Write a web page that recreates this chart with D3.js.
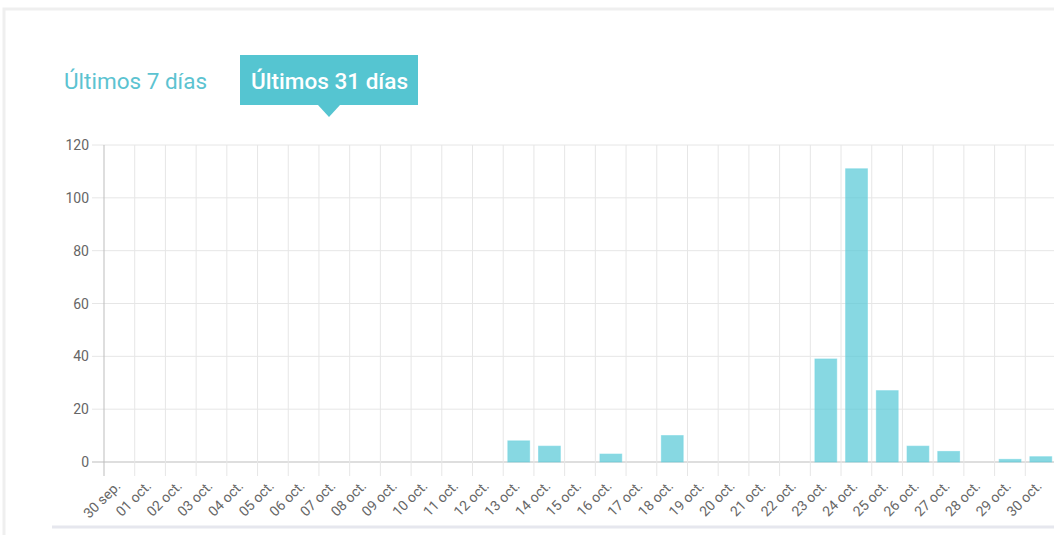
<!DOCTYPE html>
<html>
<head>
<meta charset="utf-8">
<script src="https://cdn.jsdelivr.net/npm/d3@7"></script>
<style>
  body { margin: 0; background: #fff; font-family: Roboto, sans-serif; }
  svg { display: block; }
</style>
</head>
<body>
<svg id="chart"></svg>
<script>
// categories (days) and visits per day
const days = ["30 sep.", "01 oct.", "02 oct.", "03 oct.", "04 oct.", "05 oct.", "06 oct.",
  "07 oct.", "08 oct.", "09 oct.", "10 oct.", "11 oct.", "12 oct.", "13 oct.", "14 oct.",
  "15 oct.", "16 oct.", "17 oct.", "18 oct.", "19 oct.", "20 oct.", "21 oct.", "22 oct.",
  "23 oct.", "24 oct.", "25 oct.", "26 oct.", "27 oct.", "28 oct.", "29 oct.", "30 oct."];
const visits = [0, 0, 0, 0, 0, 0, 0, 0, 0, 0, 0, 0, 0, 8, 6, 0, 3, 0, 10, 0, 0, 0, 0,
  39, 111, 27, 6, 4, 0, 1, 2];
const yTicks = [0, 20, 40, 60, 80, 100, 120];
const tabs = ["Últimos 7 días", "Últimos 31 días"];

const W = 1054, H = 535;
const svg = d3.select('#chart').attr('width', W).attr('height', H);

// panel frame
svg.append('rect')
  .attr('x', 4).attr('y', 9).attr('width', W).attr('height', 560)
  .attr('fill', '#fff').attr('stroke', '#efefef').attr('stroke-width', 3);
svg.append('line')
  .attr('x1', 52).attr('x2', W).attr('y1', 527).attr('y2', 527)
  .attr('stroke', '#e6e7ee').attr('stroke-width', 3);

// tabs
svg.append('text')
  .attr('x', 64).attr('y', 89)
  .attr('fill', '#5cc3d1').attr('font-size', 22)
  .attr('textLength', 143).attr('lengthAdjust', 'spacingAndGlyphs')
  .text(tabs[0]);

const tab = svg.append('g');
tab.append('rect')
  .attr('x', 240).attr('y', 55).attr('width', 178).attr('height', 50)
  .attr('fill', '#55c5d1');
tab.append('path')
  .attr('d', 'M318,105 L329,117 L340,105 Z')
  .attr('fill', '#55c5d1');
tab.append('text')
  .attr('x', 251).attr('y', 89)
  .attr('fill', '#fff').attr('font-size', 22).attr('font-weight', 500)
  .attr('textLength', 157).attr('lengthAdjust', 'spacingAndGlyphs')
  .text(tabs[1]);

// scales
const x = d3.scaleBand().domain(days).range([104, 1056]).padding(0);
const y = d3.scaleLinear().domain([0, 120]).range([462, 145]);

const g = svg.append('g');

// horizontal grid + y ticks
g.selectAll('.hgrid')
  .data(yTicks)
  .enter().append('line')
  .attr('x1', 92).attr('x2', 1056)
  .attr('y1', d => y(d)).attr('y2', d => y(d))
  .attr('stroke', d => d === 0 ? '#bdbdbd' : '#e6e6e6')
  .attr('stroke-width', 1);

// vertical grid at band edges
const edges = days.map(d => x(d)).concat([x.range()[1]]);
g.selectAll('.vgrid')
  .data(edges)
  .enter().append('line')
  .attr('x1', d => d).attr('x2', d => d)
  .attr('y1', 145).attr('y2', 476)
  .attr('stroke', (d, i) => i === 0 ? '#bdbdbd' : '#e6e6e6')
  .attr('stroke-width', 1);

// y axis labels
g.selectAll('.ylab')
  .data(yTicks)
  .enter().append('text')
  .attr('x', 89).attr('y', d => y(d) + 5)
  .attr('text-anchor', 'end')
  .attr('fill', '#666').attr('font-size', 14)
  .text(d => d);

// bars
g.selectAll('.bar')
  .data(visits)
  .enter().append('rect')
  .attr('x', (d, i) => x(days[i]) + x.bandwidth() * 0.15)
  .attr('width', x.bandwidth() * 0.71)
  .attr('y', d => y(d))
  .attr('height', d => y(0) - y(d))
  .attr('fill', 'rgba(84,199,214,0.7)')
  .attr('stroke', 'rgba(120,214,226,0.6)')
  .attr('stroke-width', 1);

// x labels, rotated 45deg
g.selectAll('.xlab')
  .data(days)
  .enter().append('text')
  .attr('text-anchor', 'end')
  .attr('transform', d => `translate(${x(d) + x.bandwidth() / 2 + 2},${487})rotate(-45)`)
  .attr('fill', '#666').attr('font-size', 14)
  .text(d => d);
</script>
</body>
</html>
